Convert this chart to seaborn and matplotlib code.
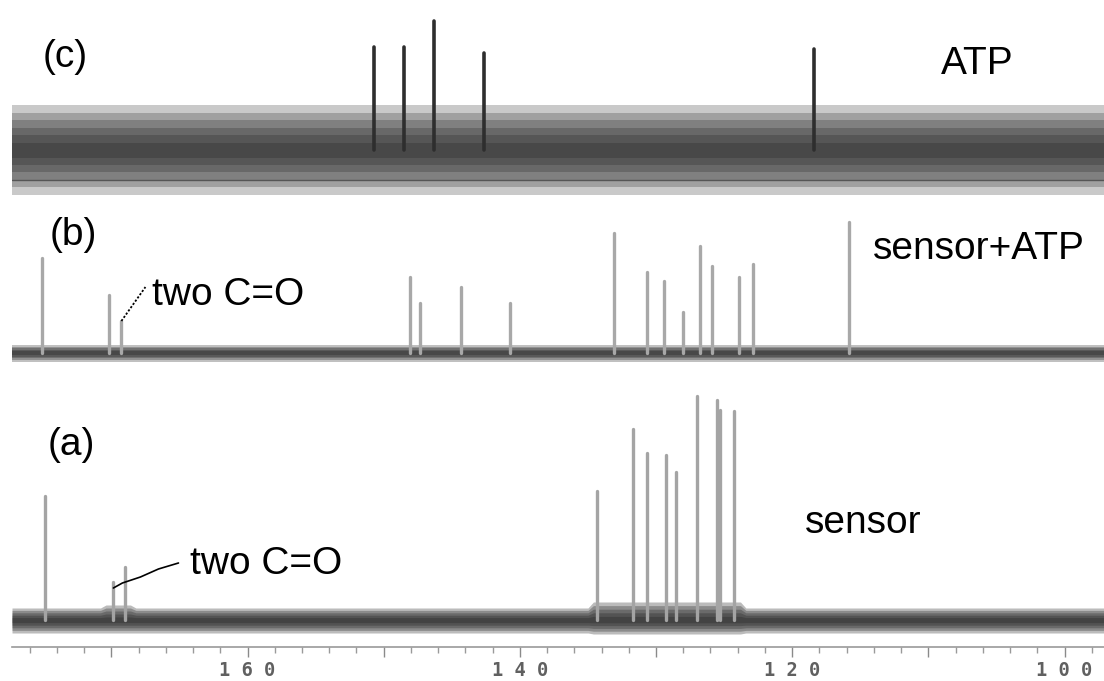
import numpy as np
import pandas as pd
import matplotlib
matplotlib.use("Agg")
import matplotlib.pyplot as plt
import seaborn as sns
from matplotlib.ticker import MultipleLocator, FuncFormatter

# ---------------- data ----------------
# chemical shift (ppm) and peak intensity (above trace baseline) for each spectrum
a_ppm = [174.9, 169.9, 169.0, 134.3, 131.7, 130.7, 129.3, 128.5, 127.0, 125.5, 125.3, 124.3]
a_height = [124, 38, 53, 129, 191, 167, 165, 148, 224, 220, 210, 209]

b_ppm = [175.1, 170.15, 169.26, 148.1, 147.3, 144.3, 140.7, 133.1, 130.7, 129.4,
         128.0, 126.8, 125.9, 123.9, 122.9, 115.8]
b_height = [95, 58, 32, 76, 50, 66, 50, 120, 81, 72, 41, 107, 87, 76, 89, 131]

c_ppm = [150.7, 148.5, 146.3, 142.6, 118.4]
c_height = [103, 103, 129, 97, 101]

# vertical offsets of the stacked traces
trace_names = ["(a)", "(b)", "(c)"]
trace_offsets = [27, 294, 497]

# noise envelope (half widths above / below each trace baseline)
a_noise_ppm = [177.3, 170.8, 170.4, 168.6, 168.2, 135.0, 134.6, 123.8, 123.4, 97.1]
a_noise_up = [12, 12, 15, 15, 12, 12, 18, 18, 12, 12]
a_noise_dn = [13, 13, 13, 13, 13, 13, 14, 14, 13, 13]
b_noise_ppm = [177.3, 97.1]
b_noise_up = [8, 8]
b_noise_dn = [9, 9]
c_noise_ppm = [177.3, 97.1]
c_noise_up = [45, 45]
c_noise_dn = [45, 45]

xticks_major = [160, 140, 120, 100]
x_left, x_right = 177.3, 97.1

# ---------------- figure ----------------
sns.set_theme(style="white")
plt.rcParams["font.family"] = ["Liberation Sans", "DejaVu Sans"]

W, H = 1104, 681
fig = plt.figure(figsize=(W / 100, H / 100), dpi=100)
ax = fig.add_axes([12 / W, 1 - 647 / H, 1 - 12 / W, 647 / H])
ax.set_xlim(x_left, x_right)
ax.set_ylim(0, 647)


def sticks(ppm, height, offset, name):
    rows = []
    for i, (p, h) in enumerate(zip(ppm, height)):
        rows.append({"ppm": p, "y": offset, "stick": f"{name}{i}"})
        rows.append({"ppm": p, "y": offset + h, "stick": f"{name}{i}"})
    return pd.DataFrame(rows)


def noise(ppm, up, dn, offset, color, alpha, layers):
    up = np.asarray(up, float)
    dn = np.asarray(dn, float)
    for k in range(layers):
        s = 1.0 - k / layers
        ax.fill_between(ppm, offset - dn * s, offset + up * s, color=color,
                        alpha=alpha, lw=0, zorder=1 + k * 0.01)


# noise bands drawn as shaded envelopes
noise(a_noise_ppm, a_noise_up, a_noise_dn, trace_offsets[0], "#1e1e1e", 0.30, 5)
noise(b_noise_ppm, b_noise_up, b_noise_dn, trace_offsets[1], "#1e1e1e", 0.28, 5)
noise(c_noise_ppm, c_noise_up, c_noise_dn, trace_offsets[2], "#1e1e1e", 0.24, 6)

# baseline reference line in (c)
ax.axhline(trace_offsets[2] - 30, color="#555555", lw=1.0, zorder=1.3)

# peaks
df_a = sticks(a_ppm, a_height, trace_offsets[0], "a")
df_b = sticks(b_ppm, b_height, trace_offsets[1], "b")
df_c = sticks(c_ppm, c_height, trace_offsets[2], "c")
sns.lineplot(data=df_a, x="ppm", y="y", units="stick", estimator=None, sort=False,
             color="#a4a4a4", lw=2.4, ax=ax, zorder=3)
sns.lineplot(data=df_b, x="ppm", y="y", units="stick", estimator=None, sort=False,
             color="#a8a8a8", lw=2.4, ax=ax, zorder=3)
sns.lineplot(data=df_c, x="ppm", y="y", units="stick", estimator=None, sort=False,
             color="#2e2e2e", lw=2.6, ax=ax, zorder=3)

# ---------------- axes styling ----------------
for s in ["top", "left", "right"]:
    ax.spines[s].set_visible(False)
ax.spines["bottom"].set_color("#999999")
ax.spines["bottom"].set_linewidth(1.2)
ax.set_yticks([])
ax.set_xlabel("")
ax.set_ylabel("")
ax.xaxis.set_major_locator(MultipleLocator(10))
ax.xaxis.set_minor_locator(MultipleLocator(2))
ax.xaxis.set_major_formatter(
    FuncFormatter(lambda v, pos: " ".join(f"{v:.0f}") if round(v) in xticks_major else ""))
ax.tick_params(axis="x", which="major", direction="out", length=7, width=1.0,
               color="#8a8a8a", pad=3, labelsize=13.5, labelcolor="#606060", bottom=True)
ax.tick_params(axis="x", which="minor", direction="out", length=4, width=1.0,
               color="#9a9a9a", bottom=True)
for lab in ax.get_xticklabels():
    lab.set_fontfamily("DejaVu Sans Mono")
    lab.set_fontweight("bold")

# ---------------- annotations (figure pixel positions) ----------------
def ftext(xpx, ypx_baseline, s, **kw):
    fig.text(xpx / W, 1 - ypx_baseline / H, s, ha="left", va="baseline",
             fontsize=28, color="black", **kw)


ftext(43, 67, "(c)")
ftext(941, 74, "ATP")
ftext(50, 245, "(b)")
ftext(152, 305, "two C=O")
ftext(873, 259, "sensor+ATP")
ftext(48, 455, "(a)")
ftext(190, 574, "two C=O")
ftext(805, 533, "sensor")


def px2data(xpx, ypx):
    return 160 - (xpx - 247) / 13.6, 647 - ypx


x0, y0 = px2data(121, 321)
x1, y1 = px2data(145, 287)
ax.plot([x0, x1], [y0, y1], color="black", lw=1.3, ls=(0, (1.2, 1.0)), zorder=4)
pts = [px2data(*p) for p in [(113, 588), (122, 583), (140, 577), (158, 569), (178, 563)]]
ax.plot([p[0] for p in pts], [p[1] for p in pts], color="black", lw=1.2, zorder=4)

fig.savefig("out.png", dpi=100)
